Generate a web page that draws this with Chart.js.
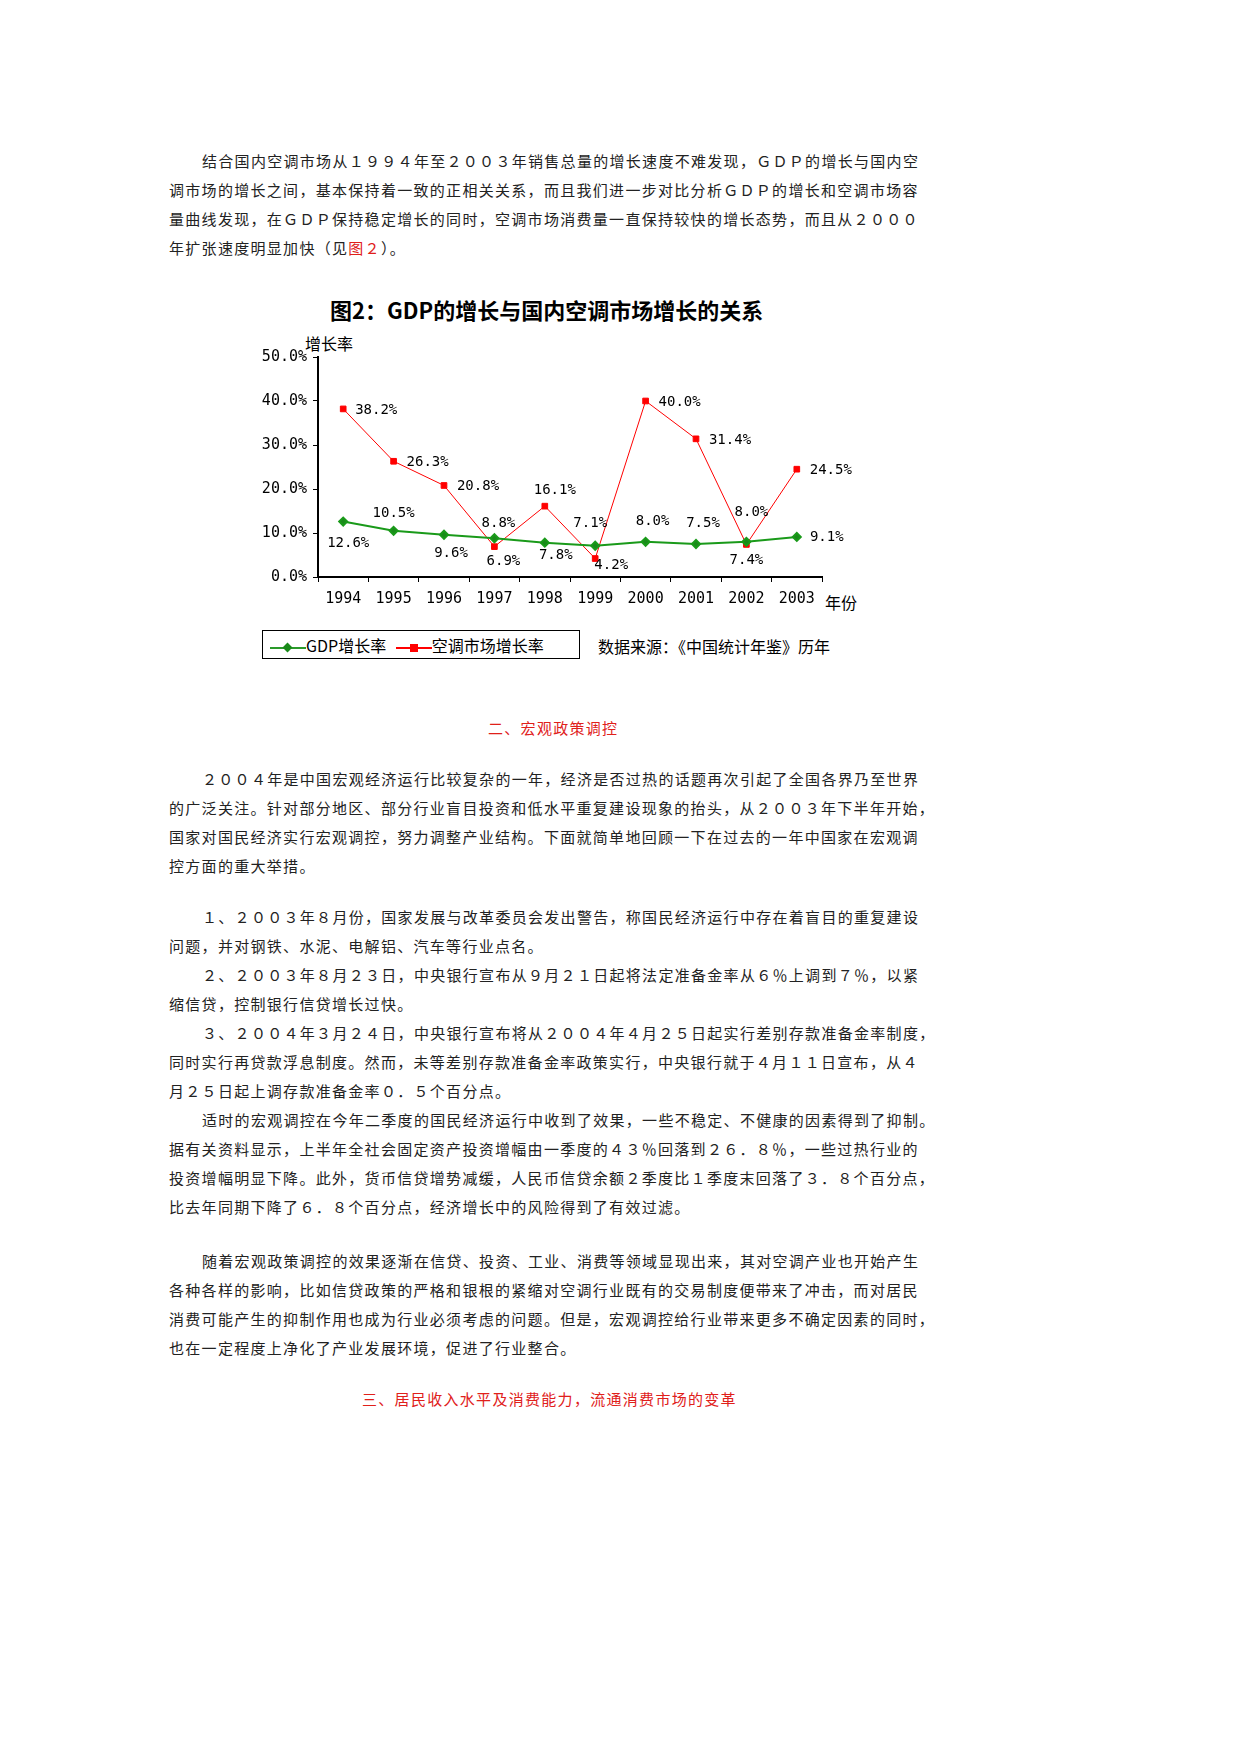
<!DOCTYPE html>
<html><head><meta charset="utf-8">
<script src="https://cdn.jsdelivr.net/npm/chart.js@4"></script>
<style>
body{margin:0;width:1240px;height:1754px;background:#fff;position:relative;font-family:"Noto Sans CJK SC","Noto Sans",sans-serif;color:#222}
.l{position:absolute;left:169px;font-size:15px;white-space:nowrap;letter-spacing:1.3px}
.red{color:#e0201a}
.c{position:absolute;font-family:"Noto Sans CJK SC";font-size:16px;color:#000}
</style></head><body>
<div class="l" style="top:150px;left:202px">结合国内空调市场从１９９４年至２００３年销售总量的增长速度不难发现，ＧＤＰ的增长与国内空</div>
<div class="l" style="top:179px">调市场的增长之间，基本保持着一致的正相关关系，而且我们进一步对比分析ＧＤＰ的增长和空调市场容</div>
<div class="l" style="top:208px">量曲线发现，在ＧＤＰ保持稳定增长的同时，空调市场消费量一直保持较快的增长态势，而且从２０００</div>
<div class="l" style="top:237px">年扩张速度明显加快（见<span class="red">图２</span>）。</div>

<div class="c" style="left:330px;top:293px;font-size:22px;font-weight:bold">图2：GDP的增长与国内空调市场增长的关系</div>
<div class="c" style="left:305px;top:331px">增长率</div>
<div class="c" style="left:825px;top:590px">年份</div>
<div style="position:absolute;left:240px;top:340px;width:640px;height:280px"><canvas id="chart"></canvas></div>
<div style="position:absolute;left:262px;top:630px;width:316px;height:27px;border:1px solid #000"></div>
<div class="c" style="left:270px;top:633px"><span style="display:inline-block;width:36px;border-top:2px solid #2a9a2a;vertical-align:middle;position:relative"><span style="position:absolute;left:14px;top:-5px;width:7px;height:7px;background:#1a8a1a;transform:rotate(45deg)"></span></span>GDP增长率 <span style="display:inline-block;width:36px;border-top:2px solid #f00;vertical-align:middle;position:relative;margin-left:6px"><span style="position:absolute;left:14px;top:-5px;width:8px;height:8px;background:#f00"></span></span>空调市场增长率</div>
<div class="c" style="left:598px;top:634px">数据来源：《中国统计年鉴》历年</div>

<div class="l red" style="top:717px;left:488px">二、宏观政策调控</div>
<div class="l" style="top:768px;left:202px">２００４年是中国宏观经济运行比较复杂的一年，经济是否过热的话题再次引起了全国各界乃至世界</div>
<div class="l" style="top:797px">的广泛关注。针对部分地区、部分行业盲目投资和低水平重复建设现象的抬头，从２００３年下半年开始，</div>
<div class="l" style="top:826px">国家对国民经济实行宏观调控，努力调整产业结构。下面就简单地回顾一下在过去的一年中国家在宏观调</div>
<div class="l" style="top:855px">控方面的重大举措。</div>
<div class="l" style="top:906px;left:202px">１、２００３年８月份，国家发展与改革委员会发出警告，称国民经济运行中存在着盲目的重复建设</div>
<div class="l" style="top:935px">问题，并对钢铁、水泥、电解铝、汽车等行业点名。</div>
<div class="l" style="top:964px;left:202px">２、２００３年８月２３日，中央银行宣布从９月２１日起将法定准备金率从６％上调到７％，以紧</div>
<div class="l" style="top:993px">缩信贷，控制银行信贷增长过快。</div>
<div class="l" style="top:1022px;left:202px">３、２００４年３月２４日，中央银行宣布将从２００４年４月２５日起实行差别存款准备金率制度，</div>
<div class="l" style="top:1051px">同时实行再贷款浮息制度。然而，未等差别存款准备金率政策实行，中央银行就于４月１１日宣布，从４</div>
<div class="l" style="top:1080px">月２５日起上调存款准备金率０．５个百分点。</div>
<div class="l" style="top:1109px;left:202px">适时的宏观调控在今年二季度的国民经济运行中收到了效果，一些不稳定、不健康的因素得到了抑制。</div>
<div class="l" style="top:1138px">据有关资料显示，上半年全社会固定资产投资增幅由一季度的４３％回落到２６．８％，一些过热行业的</div>
<div class="l" style="top:1167px">投资增幅明显下降。此外，货币信贷增势减缓，人民币信贷余额２季度比１季度末回落了３．８个百分点，</div>
<div class="l" style="top:1196px">比去年同期下降了６．８个百分点，经济增长中的风险得到了有效过滤。</div>
<div class="l" style="top:1250px;left:202px">随着宏观政策调控的效果逐渐在信贷、投资、工业、消费等领域显现出来，其对空调产业也开始产生</div>
<div class="l" style="top:1279px">各种各样的影响，比如信贷政策的严格和银根的紧缩对空调行业既有的交易制度便带来了冲击，而对居民</div>
<div class="l" style="top:1308px">消费可能产生的抑制作用也成为行业必须考虑的问题。但是，宏观调控给行业带来更多不确定因素的同时，</div>
<div class="l" style="top:1337px">也在一定程度上净化了产业发展环境，促进了行业整合。</div>
<div class="l red" style="top:1388px;left:362px">三、居民收入水平及消费能力，流通消费市场的变革</div>

<script>
const years = ['1994','1995','1996','1997','1998','1999','2000','2001','2002','2003'];
const gdpGrowth = [12.6, 10.5, 9.6, 8.8, 7.8, 7.1, 8.0, 7.5, 8.0, 9.1];
const acGrowth = [38.2, 26.3, 20.8, 6.9, 16.1, 4.2, 40.0, 31.4, 7.4, 24.5];
const yTicks = [0, 10, 20, 30, 40, 50];

// label offsets from each point (px)
const gdpOffsets = [[5,22],[0,-17],[7,19],[4,-15],[11,13],[-5,-22],[7,-20],[7,-21],[5,-29],[30,0]];
const acOffsets = [[33,1],[34,1],[34,1],[9,15],[10,-16],[16,7],[34,1],[34,2],[0,16],[34,1]];

const pointLabels = {
  id: 'pointLabels',
  afterDatasetsDraw(chart) {
    const ctx = chart.ctx;
    ctx.save();
    ctx.font = '14px "DejaVu Sans Mono"';
    ctx.fillStyle = '#000';
    ctx.textAlign = 'center';
    ctx.textBaseline = 'middle';
    [[0, gdpOffsets], [1, acOffsets]].forEach(([i, offs]) => {
      chart.getDatasetMeta(i).data.forEach((p, j) => {
        const v = chart.data.datasets[i].data[j];
        ctx.fillText(v.toFixed(1) + '%', p.x + offs[j][0], p.y + offs[j][1]);
      });
    });
    ctx.restore();
  }
};

new Chart(document.getElementById('chart'), {
  type: 'line',
  data: {
    labels: years,
    datasets: [
      { label: 'GDP增长率', data: gdpGrowth, borderColor: '#1a9a1a', backgroundColor: '#1a8a1a', borderWidth: 2,
        pointStyle: 'rectRot', pointRadius: 4, tension: 0 },
      { label: '空调市场增长率', data: acGrowth, borderColor: '#ff0000', backgroundColor: '#ff0000', borderWidth: 1,
        pointStyle: 'rect', pointRadius: 4, tension: 0 }
    ]
  },
  options: {
    responsive: true, maintainAspectRatio: false, animation: false,
    layout: { padding: { top: 17, right: 58 } },
    plugins: { legend: { display: false }, tooltip: { enabled: false } },
    scales: {
      x: {
        offset: true,
        grid: { offset: true, drawOnChartArea: false, drawTicks: true, tickLength: 5, color: '#000' },
        border: { color: '#000', width: 2 },
        ticks: { color: '#000', font: { family: 'DejaVu Sans Mono', size: 15 }, padding: 8, maxRotation: 0 },
        afterFit(s) { s.height = 43; }
      },
      y: {
        min: 0, max: 50,
        afterBuildTicks(s) { s.ticks = yTicks.map(v => ({ value: v })); },
        grid: { drawOnChartArea: false, tickLength: 5, color: '#000' },
        border: { color: '#000', width: 2 },
        ticks: { color: '#000', font: { family: 'DejaVu Sans Mono', size: 15 }, padding: 6,
          callback: v => v.toFixed(1) + '%' },
        afterFit(s) { s.width = 78; }
      }
    }
  },
  plugins: [pointLabels]
});
</script>
</body></html>
